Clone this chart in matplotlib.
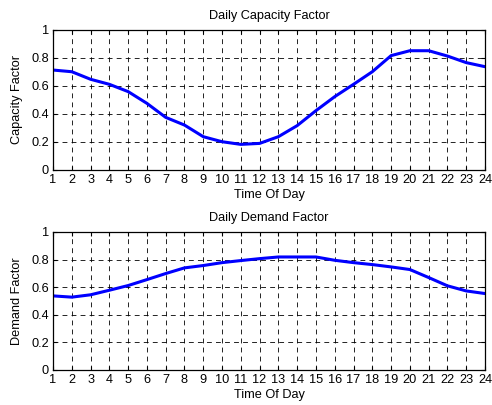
import matplotlib
matplotlib.use("Agg")
import matplotlib.pyplot as plt

hours = list(range(1, 25))

capacity_factor = [0.714, 0.702, 0.648, 0.612, 0.56, 0.476, 0.376, 0.321,
                   0.238, 0.202, 0.183, 0.19, 0.238, 0.317, 0.424, 0.524,
                   0.612, 0.702, 0.817, 0.852, 0.852, 0.814, 0.767, 0.738]

demand_factor = [0.537, 0.528, 0.545, 0.578, 0.612, 0.655, 0.699, 0.74,
                 0.757, 0.778, 0.793, 0.807, 0.819, 0.819, 0.819, 0.795,
                 0.778, 0.764, 0.747, 0.728, 0.67, 0.61, 0.573, 0.554]

y_ticks = [0, 0.2, 0.4, 0.6, 0.8, 1]
y_tick_labels = ["0", "0.2", "0.4", "0.6", "0.8", "1"]

FS = 9.2

plt.rcParams["font.family"] = ["Liberation Sans", "DejaVu Sans"]
plt.rcParams["font.size"] = FS
plt.rcParams["lines.scale_dashes"] = False

fig = plt.figure(figsize=(4.92, 4.05), dpi=100)
W, H = 492, 405


def setup_axes(ax, title, ylabel):
    ax.set_xlim(1, 24)
    ax.set_ylim(0, 1)
    ax.set_xticks(hours)
    ax.set_xticklabels([str(h) for h in hours])
    ax.set_yticks(y_ticks)
    ax.set_yticklabels(y_tick_labels)
    ax.tick_params(direction="in", length=3, width=0.8, top=True, right=True,
                   pad=3, labelsize=FS)
    ax.grid(True, color="black", linewidth=0.6, linestyle=(0, (3.5, 3)))
    for s in ax.spines.values():
        s.set_linewidth(0.9)
    ax.set_title(title, fontsize=FS, pad=8)
    ax.set_xlabel("Time Of Day", fontsize=FS, labelpad=2)
    ax.set_ylabel(ylabel, fontsize=FS, labelpad=6)


# top panel
ax1 = fig.add_axes([53 / W, 1 - 170 / H, 432 / W, 140 / H])
ax1.plot(hours, capacity_factor, color="#0000ff", linewidth=2.2)
setup_axes(ax1, "Daily Capacity Factor", "Capacity Factor")

# bottom panel
ax2 = fig.add_axes([53 / W, 1 - 370 / H, 432 / W, 138 / H])
ax2.plot(hours, demand_factor, color="#0000ff", linewidth=2.2)
setup_axes(ax2, "Daily Demand Factor", "Demand Factor")

fig.savefig("out.png", dpi=100)
